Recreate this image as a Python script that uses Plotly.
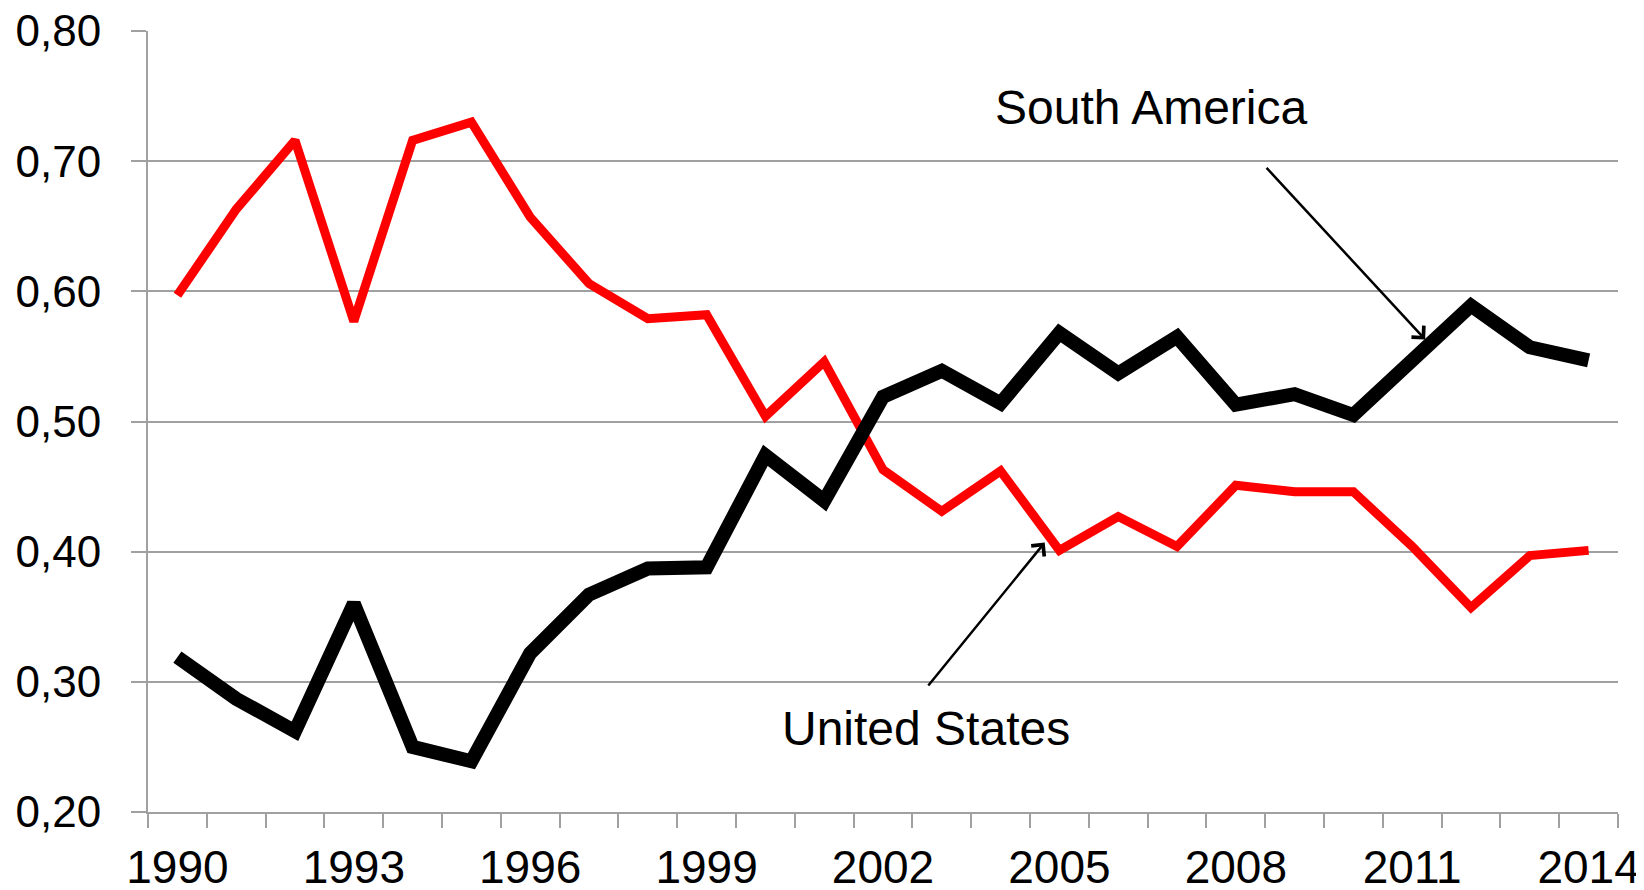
import plotly.graph_objects as go

years = list(range(1990, 2015))

south_america = [0.319, 0.287, 0.262, 0.360, 0.250, 0.239, 0.322, 0.367, 0.387, 0.388,
                 0.474, 0.439, 0.519, 0.539, 0.514, 0.568, 0.537, 0.565, 0.513, 0.521,
                 0.505, 0.546, 0.589, 0.557, 0.547]

united_states = [0.597, 0.663, 0.716, 0.577, 0.716, 0.730, 0.657, 0.606, 0.579, 0.582,
                 0.504, 0.546, 0.463, 0.431, 0.462, 0.401, 0.427, 0.404, 0.451, 0.446,
                 0.446, 0.404, 0.357, 0.397, 0.401]

label_years = [1990, 1993, 1996, 1999, 2002, 2005, 2008, 2011, 2014]
y_ticks = [0.2, 0.3, 0.4, 0.5, 0.6, 0.7, 0.8]

grey = "#a0a0a0"
font = "Liberation Sans, Arial, sans-serif"

fig = go.Figure()

# red line under the black one
fig.add_trace(go.Scatter(x=years, y=united_states, mode="lines", name="United States",
                         line=dict(color="#ff0000", width=9)))
fig.add_trace(go.Scatter(x=years, y=south_america, mode="lines", name="South America",
                         line=dict(color="#000000", width=14)))

# page body has an 8px margin, so the figure is a bit smaller than the window
fig.update_layout(
    width=1636, height=882,
    margin=dict(l=140, r=26, t=23, b=78),
    paper_bgcolor="white", plot_bgcolor="white",
    showlegend=False,
    font=dict(family=font, size=48, color="black"),
)

fig.update_xaxes(
    range=[1989.5, 2014.5], automargin=False,
    tickvals=label_years, ticktext=[str(y) for y in label_years],
    ticks="", showgrid=False,
    showline=True, linecolor=grey, linewidth=2,
    tickfont=dict(size=46),
    ticklabelstandoff=14, ticklabeloverflow="allow",
    minor=dict(tick0=1989.5, dtick=1, ticks="outside", ticklen=14,
               tickcolor=grey, tickwidth=2, showgrid=False),
)

fig.update_yaxes(
    range=[0.2, 0.8], automargin=False,
    tickvals=y_ticks, ticktext=[f"{v:.2f}".replace(".", ",") for v in y_ticks],
    ticks="outside", ticklen=15, tickcolor=grey, tickwidth=2,
    showgrid=True, gridcolor=grey, gridwidth=2,
    showline=True, linecolor=grey, linewidth=2,
    zeroline=False,
    tickfont=dict(size=44),
    ticklabelstandoff=21, ticklabeloverflow="allow",
)

# text labels with arrows
fig.add_annotation(x=2006.56, y=0.741, text="South America", showarrow=False,
                   font=dict(size=48, color="black"))
fig.add_annotation(x=2011.22, y=0.563, ax=2008.5, ay=0.696, axref="x", ayref="y",
                   text="", showarrow=True, arrowhead=4, arrowsize=1.3,
                   arrowwidth=2.5, arrowcolor="black")

fig.add_annotation(x=2002.73, y=0.264, text="United States", showarrow=False,
                   font=dict(size=48, color="black"))
fig.add_annotation(x=2004.75, y=0.407, ax=2002.75, ay=0.296, axref="x", ayref="y",
                   text="", showarrow=True, arrowhead=4, arrowsize=1.3,
                   arrowwidth=2.5, arrowcolor="black")

fig.write_html("out.html")
